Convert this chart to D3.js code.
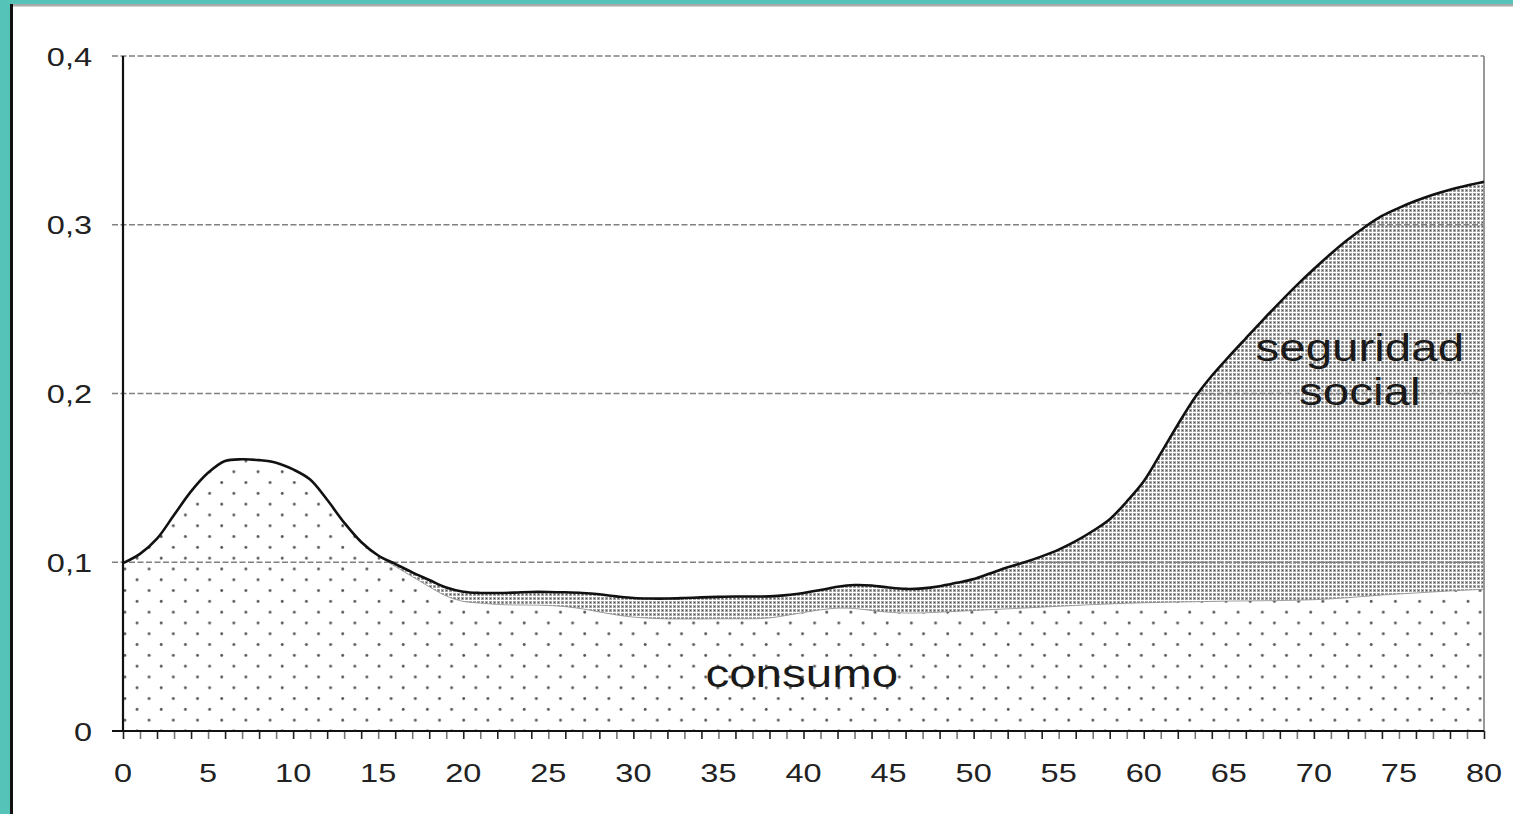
<!DOCTYPE html>
<html><head><meta charset="utf-8">
<script src="https://cdn.jsdelivr.net/npm/d3@7"></script>
<style>html,body{margin:0;padding:0;background:#fff;overflow:hidden}</style>
</head><body>
<svg id="c" width="1513" height="814"></svg>
<script>
const ages = [0,1,2,3,4,5,6,7,8,9,10,11,12,13,14,15,16,17,18,19,20,21,22,23,24,25,26,27,28,29,30,31,32,33,34,35,36,37,38,39,40,41,42,43,44,45,46,47,48,49,50,51,52,53,54,55,56,57,58,59,60,61,62,63,64,65,66,67,68,69,70,71,72,73,74,75,76,77,78,79,80];
// total = consumo + seguridad social (top curve)
const total = [0.0995,0.105,0.114,0.128,0.142,0.153,0.160,0.161,0.1605,0.159,0.155,0.149,0.137,0.1235,0.112,0.104,0.099,0.094,0.0895,0.085,
  0.0825,0.0818,0.0818,0.082,0.0824,0.0824,0.0822,0.0818,0.081,0.0798,0.0788,0.0785,0.0785,0.0788,0.0792,0.0795,0.0797,0.0797,0.0798,0.0805,
  0.0818,0.0835,0.0855,0.0865,0.0862,0.085,0.0842,0.0845,0.0858,0.0878,0.090,0.0935,0.097,0.100,0.1035,0.1075,0.1125,0.1185,0.1255,0.136,
  0.148,0.1645,0.1815,0.1975,0.2105,0.2218,0.2327,0.2435,0.254,0.2642,0.2738,0.2828,0.2912,0.2987,0.3052,0.3100,0.3142,0.3178,0.3208,0.3233,0.3255];
// consumo (lower area)
const consumo = [0.0995,0.105,0.114,0.128,0.142,0.153,0.160,0.161,0.1605,0.159,0.155,0.149,0.137,0.1235,0.112,0.1035,0.0975,0.0915,0.0855,0.080,
  0.0768,0.0758,0.075,0.0747,0.0746,0.0744,0.0737,0.0724,0.0705,0.0688,0.0675,0.0668,0.0664,0.0664,0.0664,0.0665,0.0665,0.0665,0.067,0.0685,
  0.0702,0.0718,0.0728,0.0726,0.0714,0.0704,0.0699,0.070,0.0704,0.0709,0.0714,0.0719,0.0724,0.0729,0.0734,0.0739,0.0744,0.0749,0.0753,0.0757,
  0.076,0.0762,0.0764,0.0766,0.0768,0.077,0.0771,0.0772,0.0773,0.0775,0.0778,0.0783,0.079,0.0798,0.0806,0.0812,0.0818,0.0824,0.083,0.0835,0.084];
const yTicks = [0,0.1,0.2,0.3,0.4];
const yTickLabels = ["0","0,1","0,2","0,3","0,4"];
const xLabelTicks = [0,5,10,15,20,25,30,35,40,45,50,55,60,65,70,75,80];
const areaLabels = [
  {text:"consumo", x:39.9, y:0.026},
  {text:"seguridad", x:72.7, y:0.219},
  {text:"social", x:72.7, y:0.193}
];

const svg = d3.select("#c");
const x = d3.scaleLinear().domain([0,80]).range([123,1484]);
const y = d3.scaleLinear().domain([0,0.4]).range([731,56]);
const textFont = "'Liberation Sans', Arial, sans-serif";
const stretch = 1.25;

// frame
svg.append("rect").attr("x",0).attr("y",0).attr("width",1513).attr("height",4).attr("fill","#55C3B8");
svg.append("rect").attr("x",0).attr("y",4).attr("width",1513).attr("height",2.5).attr("fill","#aaa");
svg.append("rect").attr("x",0).attr("y",0).attr("width",10).attr("height",814).attr("fill","#55C3B8");
svg.append("rect").attr("x",10).attr("y",4).attr("width",3).attr("height",810).attr("fill","#111");

// patterns
const defs = svg.append("defs");
const pd = defs.append("pattern").attr("id","dots").attr("patternUnits","userSpaceOnUse")
  .attr("x",131).attr("y",569-5.4).attr("width",24.2).attr("height",21.6);
pd.append("rect").attr("width",24.2).attr("height",21.6).attr("fill","#fff");
pd.append("circle").attr("cx",12.1+6).attr("cy",5.4).attr("r",1.45).attr("fill","#555");
pd.append("circle").attr("cx",6).attr("cy",16.2).attr("r",1.45).attr("fill","#555");

const ph = defs.append("pattern").attr("id","hatch").attr("patternUnits","userSpaceOnUse")
  .attr("width",4).attr("height",4);
ph.append("rect").attr("width",4).attr("height",4).attr("fill","#a6a6a6");
ph.append("rect").attr("width",4).attr("height",1).attr("fill","#fff");
ph.append("rect").attr("width",1).attr("height",4).attr("fill","#fff");
ph.append("rect").attr("x",2).attr("y",2).attr("width",1).attr("height",1).attr("fill","#555");

const data = ages.map((a,i)=>({a, t:total[i], c:consumo[i]}));
const curve = d3.curveCatmullRom.alpha(0.5);

svg.append("path").datum(data)
  .attr("d", d3.area().curve(curve).x(d=>x(d.a)).y0(y(0)).y1(d=>y(d.c)))
  .attr("fill","url(#dots)");
svg.append("path").datum(data)
  .attr("d", d3.area().curve(curve).x(d=>x(d.a)).y0(d=>y(d.c)).y1(d=>y(d.t)))
  .attr("fill","url(#hatch)");

// gridlines
svg.append("g").selectAll("line").data(yTicks.filter(d=>d>0)).join("line")
  .attr("x1",112).attr("x2",1484).attr("y1",d=>y(d)).attr("y2",d=>y(d))
  .attr("stroke","#808080").attr("stroke-width",1.6).attr("stroke-dasharray","6,2.5");

// right border
svg.append("line").attr("x1",1484).attr("x2",1484).attr("y1",y(0.4)).attr("y2",y(0))
  .attr("stroke","#999").attr("stroke-width",2);

// consumo edge (subtle) and top curve
svg.append("path").datum(data.filter(d=>d.a>=15))
  .attr("d", d3.line().curve(curve).x(d=>x(d.a)).y(d=>y(d.c)))
  .attr("fill","none").attr("stroke","#888").attr("stroke-width",0.8);
svg.append("path").datum(data)
  .attr("d", d3.line().curve(curve).x(d=>x(d.a)).y(d=>y(d.t)))
  .attr("fill","none").attr("stroke","#111").attr("stroke-width",2.6);

// y axis
svg.append("line").attr("x1",123).attr("x2",123).attr("y1",y(0.4)).attr("y2",y(0))
  .attr("stroke","#111").attr("stroke-width",2.2);
// x axis with ticks
const xAxis = d3.axisBottom(x).tickValues(ages).tickSize(8).tickSizeOuter(0).tickFormat("");
const gx = svg.append("g").attr("transform",`translate(0,${y(0)})`).call(xAxis);
gx.select(".domain").remove();
gx.selectAll(".tick line").attr("stroke",(d,i)=> i%2===0 ? "#222" : "#777").attr("stroke-width",1.6);
svg.append("line").attr("x1",112).attr("x2",1484).attr("y1",y(0)).attr("y2",y(0))
  .attr("stroke","#111").attr("stroke-width",2.2);

// tick labels
svg.append("g").selectAll("text").data(xLabelTicks).join("text")
  .attr("transform",d=>`translate(${x(d)},782) scale(${stretch},1)`)
  .attr("text-anchor","middle").attr("font-family",textFont).attr("font-size",26)
  .attr("fill","#222").text(d=>d);
svg.append("g").selectAll("text").data(yTicks).join("text")
  .attr("transform",d=>`translate(92,${y(d)+9.5}) scale(${stretch},1)`)
  .attr("text-anchor","end").attr("font-family",textFont).attr("font-size",26)
  .attr("fill","#222").text((d,i)=>yTickLabels[i]);

// area labels
svg.append("g").selectAll("text").data(areaLabels).join("text")
  .attr("transform",d=>`translate(${x(d.x)},${y(d.y)}) scale(${stretch},1)`)
  .attr("text-anchor","middle").attr("font-family",textFont).attr("font-size",38)
  .attr("fill","#1a1a1a").text(d=>d.text);
</script>
</body></html>
